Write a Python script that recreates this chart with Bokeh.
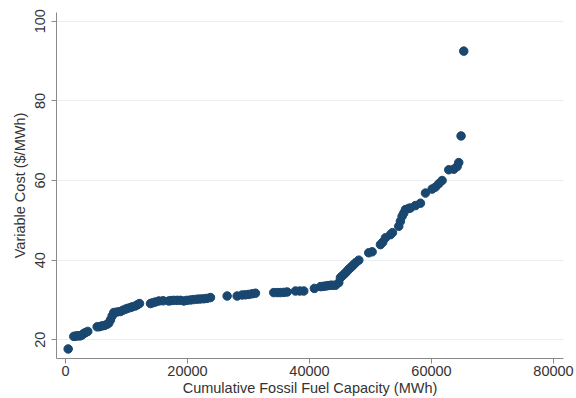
from bokeh.plotting import figure
from bokeh.models import Range1d, FixedTicker
from bokeh.embed import file_html
from bokeh.resources import INLINE

# Cumulative fossil fuel capacity (MWh) and variable cost ($/MWh)
capacity = [440, 1360, 1600, 1910, 2200, 2460, 2700, 3000, 3300, 3650,
            5190, 5600, 6010, 6400, 6830, 7100, 7380, 7650, 7920, 8500,
            9010, 9400, 9830, 10200, 10650, 11000, 11470, 11800, 12130,
            13930, 14300, 14750, 15300, 16000, 16930, 17300, 17750, 18300,
            18850, 19390, 19900, 20490, 21000, 21590, 22100, 22670, 23200,
            23770, 26500, 28140, 28960, 29500, 30050, 30600, 31140,
            34140, 34700, 35240, 35800, 36330, 37700, 38400, 39060,
            40800, 41800, 42200, 42620, 43000, 43440, 43800, 44260, 44800,
            45070, 45350, 45620, 45900, 46170, 46440, 46710, 47000, 47260,
            47600, 48080, 49710, 50270, 51630, 52000, 52450, 53270, 53600,
            54630, 54900, 55180, 55450, 55730, 56270, 56550, 57370, 58190,
            59010, 60100, 60650, 61200, 61740, 62830, 63650, 64200, 64470,
            64850, 65290]
cost = [17.7, 20.85, 20.9, 21.0, 21.0, 21.0, 21.2, 21.6, 21.8, 22.1,
        23.25, 23.3, 23.5, 23.6, 23.9, 24.2, 25.0, 26.0, 26.85, 27.0,
        27.1, 27.4, 27.7, 27.9, 28.1, 28.3, 28.5, 28.8, 29.1,
        29.1, 29.3, 29.5, 29.75, 29.8, 29.75, 29.85, 29.9, 29.9,
        29.9, 29.75, 29.9, 30.0, 30.1, 30.2, 30.25, 30.3, 30.4,
        30.6, 31.0, 31.0, 31.25, 31.3, 31.4, 31.55, 31.7,
        31.85, 31.85, 31.85, 31.9, 32.0, 32.25, 32.25, 32.25,
        32.9, 33.35, 33.4, 33.5, 33.6, 33.7, 33.7, 33.7, 34.35,
        35.6, 36.0, 36.4, 36.8, 37.25, 37.7, 38.1, 38.5, 38.9,
        39.4, 40.0, 41.85, 42.1, 43.9, 44.5, 45.6, 46.4, 46.9,
        48.5, 49.75, 51.0, 51.8, 52.7, 53.0, 53.1, 53.7, 54.3,
        56.85, 57.85, 58.35, 59.2, 60.0, 62.7, 62.85, 63.5, 64.5,
        71.2, 92.5]

x_ticks = [0, 20000, 40000, 60000, 80000]
y_ticks = [20, 40, 60, 80, 100]

FONT = "Liberation Sans"
FS = "14.5px"
TXT = "#333333"
AXC = "#8a8a8a"

p = figure(width=576, height=398, output_backend="svg", toolbar_location=None,
           x_range=Range1d(-1475, 81640), y_range=Range1d(15.3, 102.2),
           min_border_left=56, min_border_right=13, min_border_top=12,
           min_border_bottom=40)
p.outline_line_color = None
p.background_fill_color = "white"
p.border_fill_color = "white"

p.scatter(capacity, cost, size=8.5, color="#1a476f", line_color="#1a476f")

p.xaxis.ticker = FixedTicker(ticks=x_ticks)
p.yaxis.ticker = FixedTicker(ticks=y_ticks)
p.xaxis.axis_label = "Cumulative Fossil Fuel Capacity (MWh)"
p.yaxis.axis_label = "Variable Cost ($/MWh)"
p.yaxis.major_label_orientation = "vertical"

for ax in (p.xaxis[0], p.yaxis[0]):
    ax.minor_tick_line_color = None
    ax.major_tick_in = 0
    ax.major_tick_out = 5
    ax.major_label_standoff = 2
    ax.axis_label_standoff = 1
    ax.axis_line_color = AXC
    ax.major_tick_line_color = AXC
    ax.major_label_text_font = FONT
    ax.major_label_text_font_size = FS
    ax.major_label_text_color = TXT
    ax.axis_label_text_font = FONT
    ax.axis_label_text_font_size = FS
    ax.axis_label_text_font_style = "normal"
    ax.axis_label_text_color = TXT

p.yaxis[0].major_label_standoff = 6
p.yaxis[0].axis_label_standoff = 5

p.xgrid.grid_line_color = None
p.ygrid.grid_line_color = "#e9eef0"
p.ygrid.grid_line_width = 1

open("out.html", "w").write(file_html(p, INLINE))
